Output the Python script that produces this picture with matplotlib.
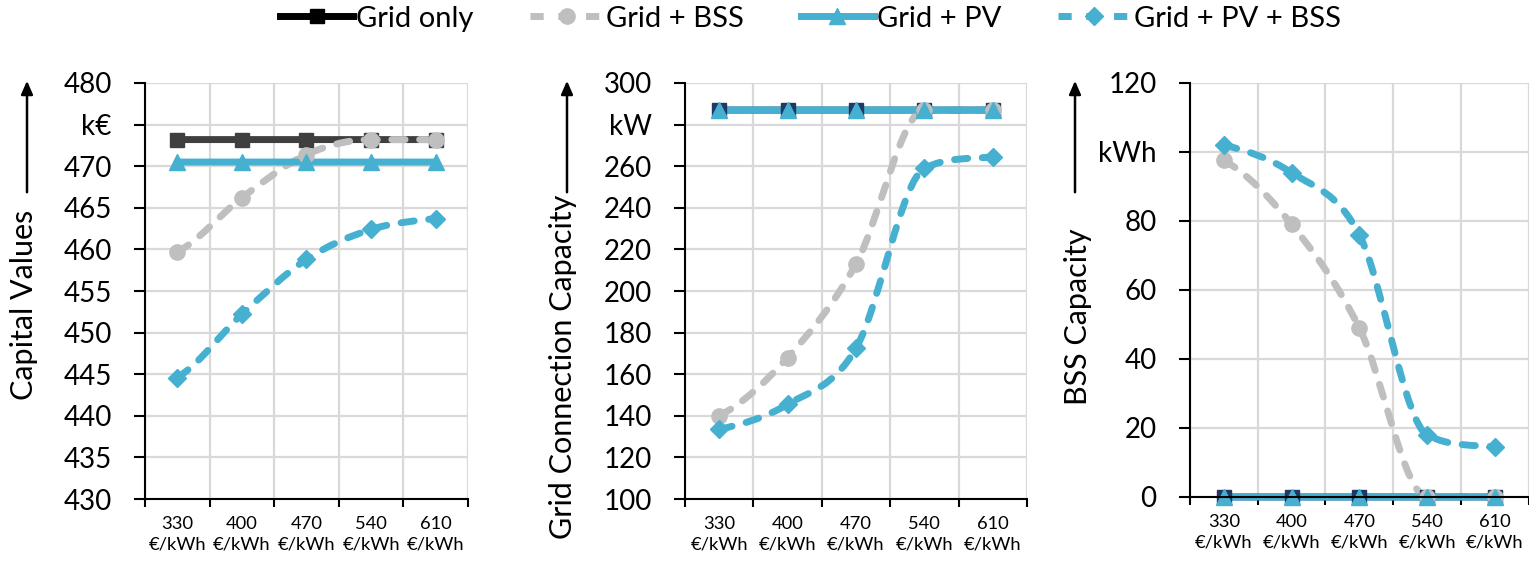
import matplotlib.pyplot as plt
from matplotlib.path import Path
from matplotlib.patches import PathPatch
from matplotlib.lines import Line2D

plt.rcParams['font.family'] = ['Lato', 'DejaVu Sans']

prices = ["330\n€/kWh", "400\n€/kWh", "470\n€/kWh", "540\n€/kWh", "610\n€/kWh"]

# capital values, k€
cap_grid = [473.2, 473.2, 473.2, 473.2, 473.2]
cap_bss = [459.7, 466.2, 471.4, 473.2, 473.2]
cap_pv = [470.5, 470.5, 470.5, 470.5, 470.5]
cap_pvbss = [444.6, 452.2, 458.8, 462.4, 463.7]

# grid connection capacity, kW
gcc_grid = [287, 287, 287, 287, 287]
gcc_bss = [140, 168, 213, 287, 287]
gcc_pv = [287, 287, 287, 287, 287]
gcc_pvbss = [133.5, 145.5, 172.5, 259, 264.5]

# BSS capacity, kWh
bss_grid = [0, 0, 0, 0, 0]
bss_bss = [97.6, 79, 49, 0, 0]
bss_pv = [0, 0, 0, 0, 0]
bss_pvbss = [102, 94, 76, 18, 14.5]

GRAY = "#BFBFBF"
BLUE = "#45B0D0"
LW = 5
DASH = (0, (1.9, 2.1))


def smooth_path(ys):
    # smoothed line like excel's, built as cubic bezier segments (no overshoot)
    n = len(ys)
    d = [ys[i + 1] - ys[i] for i in range(n - 1)]
    m = [0.0] * n
    m[0], m[-1] = d[0] * 0.6, d[-1] * 0.6
    for i in range(1, n - 1):
        if d[i - 1] * d[i] > 0:
            mm = (d[i - 1] + d[i]) / 2
            lim = 3 * min(abs(d[i - 1]), abs(d[i]))
            m[i] = max(-lim, min(lim, mm))
    verts = [(0, ys[0])]
    codes = [Path.MOVETO]
    for i in range(n - 1):
        verts += [(i + 1 / 3, ys[i] + m[i] / 3), (i + 2 / 3, ys[i + 1] - m[i + 1] / 3), (i + 1, ys[i + 1])]
        codes += [Path.CURVE4] * 3
    return Path(verts, codes)


def draw(ax, ys, color, marker, ms, dashed):
    xs = list(range(len(ys)))
    patch = PathPatch(smooth_path(ys), fill=False, edgecolor=color, lw=LW,
                      linestyle=DASH if dashed else "-", capstyle="round",
                      joinstyle="round", clip_on=False)
    ax.add_patch(patch)
    ax.plot(xs, ys, linestyle="none", marker=marker, ms=ms, color=color,
            clip_on=False, zorder=patch.get_zorder() + 0.1)


panels = [
    dict(rect=[0.0948, 0.1168, 0.2113, 0.7363], data=(cap_grid, cap_bss, cap_pv, cap_pvbss),
         ylim=(430, 480), step=5, unit="k€", unit_at=475, gridc="#3F3F3F",
         label="Capital Values", lab_xy=(24, 305), arrow_x=27),
    dict(rect=[0.448, 0.1168, 0.2237, 0.7363], data=(gcc_grid, gcc_bss, gcc_pv, gcc_pvbss),
         ylim=(100, 300), step=20, unit="kW", unit_at=280, gridc="#1F3864",
         label="Grid Connection Capacity", lab_xy=(563, 367), arrow_x=567),
    dict(rect=[0.7783, 0.1204, 0.2215, 0.7327], data=(bss_grid, bss_bss, bss_pv, bss_pvbss),
         ylim=(0, 120), step=20, unit="kWh", unit_at=100, gridc="#1F3864",
         label="BSS Capacity", lab_xy=(1078, 317), arrow_x=1075),
]

W, H = 1529, 565
fig = plt.figure(figsize=(W / 100, H / 100), dpi=100)

for p in panels:
    ax = fig.add_axes(p["rect"])
    g, b, pv, pb = p["data"]
    draw(ax, g, p["gridc"], "s", 10, False)
    draw(ax, b, GRAY, "o", 11, True)
    draw(ax, pv, BLUE, "^", 11, False)
    draw(ax, pb, BLUE, "D", 9, True)

    ax.set_xlim(-0.5, 4.5)
    ax.set_ylim(*p["ylim"])
    ax.set_xticks(range(5))
    ax.set_xticklabels(prices, fontsize=13.2, linespacing=1.35)
    ax.set_xticks([i - 0.5 for i in range(6)], minor=True)
    ax.tick_params(axis="x", which="major", length=0, pad=12)
    ax.tick_params(axis="x", which="minor", length=6, width=1.5, direction="out")

    lo, hi = p["ylim"]
    yt = list(range(lo, hi + 1, p["step"]))
    ax.set_yticks(yt)
    ax.set_yticklabels([p["unit"] if v == p["unit_at"] else str(v) for v in yt], fontsize=20)
    ax.tick_params(axis="y", length=8, width=1.5, direction="out", pad=16)

    ax.grid(True, which="minor", axis="x", color="#D9D9D9", lw=1.6)
    ax.grid(True, which="major", axis="y", color="#D9D9D9", lw=1.6)
    ax.set_axisbelow(True)
    for s in ("top", "right"):
        ax.spines[s].set_visible(False)
    for s in ("left", "bottom"):
        ax.spines[s].set_linewidth(1.5)

    lx, ly = p["lab_xy"]
    fig.text(lx / W, 1 - ly / H, p["label"], rotation=90, fontsize=22,
             ha="center", va="center")
    ax_x = p["arrow_x"] / W
    fig.add_artist(plt.Annotation("", xy=(ax_x, 1 - 78 / H), xytext=(ax_x, 1 - 195 / H),
                                  xycoords="figure fraction",
                                  arrowprops=dict(arrowstyle="-|>,head_length=0.8,head_width=0.35",
                                                  color="black", lw=1.8)))

handles = [
    Line2D([], [], color="black", lw=LW, marker="s", ms=10),
    Line2D([], [], color=GRAY, lw=LW, ls=DASH, marker="o", ms=11),
    Line2D([], [], color=BLUE, lw=LW, marker="^", ms=11),
    Line2D([], [], color=BLUE, lw=LW, ls=DASH, marker="D", ms=9),
]
fig.legend(handles, ["Grid only", "Grid + BSS", "Grid + PV", "Grid + PV + BSS"],
           loc="center", bbox_to_anchor=(0.53, 0.967), ncol=4, frameon=False,
           fontsize=21, handlelength=2.5, handletextpad=0.1, columnspacing=1.95)

fig.savefig("out.png", dpi=100)
